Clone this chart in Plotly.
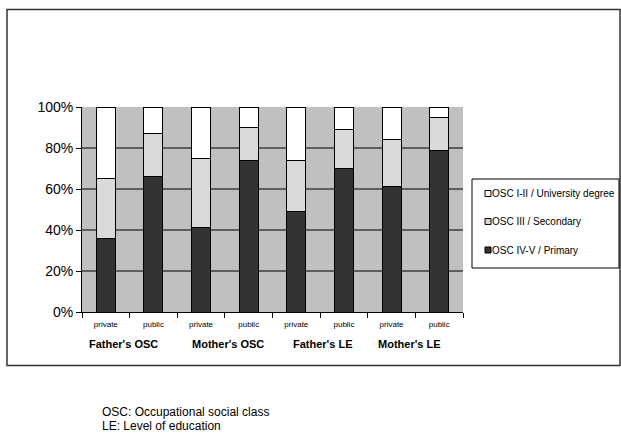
import plotly.graph_objects as go

# ---- data ----
groups = ["Father's OSC", "Mother's OSC", "Father's LE", "Mother's LE"]
school = ["private", "public"]
series_names = ["OSC IV-V / Primary", "OSC III / Secondary", "OSC I-II / University degree"]
primary = [36, 66, 41, 74, 49, 70, 61, 79]
secondary = [29, 21, 34, 16, 25, 19, 23, 16]
university = [35, 13, 25, 10, 26, 11, 16, 5]
y_ticks = [0, 20, 40, 60, 80, 100]
footnotes = ["OSC: Occupational social class", "LE: Level of education"]

# ---- layout helpers ----
W, H = 621, 436
L, R, T, B = 82, 463, 107, 312
pw, ph = R - L, B - T


def px_x(x):
    return (x - L) / pw


def px_y(y):
    return (B - y) / ph


xpos = list(range(len(groups) * len(school)))
xlabels = [school[i % 2] for i in xpos]

fig = go.Figure()
fig.add_trace(go.Bar(
    x=xpos, y=primary, name=series_names[0], width=0.4,
    marker=dict(color="#333333", line=dict(color="black", width=1)),
    showlegend=False))
fig.add_trace(go.Bar(
    x=xpos, y=secondary, name=series_names[1], width=0.4,
    marker=dict(color="white", line=dict(color="black", width=1),
                pattern=dict(shape=".", fgcolor="#8c8c8c", bgcolor="#f0f0f0",
                             size=2, solidity=0.5)),
    showlegend=False))
fig.add_trace(go.Bar(
    x=xpos, y=university, name=series_names[2], width=0.4,
    marker=dict(color="white", line=dict(color="black", width=1)),
    showlegend=False))

fig.update_layout(
    width=W, height=H,
    margin=dict(l=L, r=W - R, t=T, b=H - B, pad=0),
    barmode="stack",
    plot_bgcolor="#C0C0C0",
    paper_bgcolor="white",
    font=dict(family="Liberation Sans, Arial, sans-serif", color="black"),
    xaxis=dict(
        range=[-0.5, len(xpos) - 0.5],
        tickmode="array", tickvals=xpos, ticktext=xlabels,
        ticks="", showgrid=False, zeroline=False,
        showline=True, linecolor="black", linewidth=1,
        tickfont=dict(size=8, color="black"),
        ticklabelstandoff=4,
        minor=dict(ticks="outside", ticklen=5, tickcolor="black",
                   tick0=-0.5, dtick=1, showgrid=False),
    ),
    yaxis=dict(
        range=[0, 100],
        tickmode="array", tickvals=y_ticks,
        ticktext=[f"{v}%" for v in y_ticks],
        ticks="outside", ticklen=5, tickcolor="black",
        showline=True, linecolor="black", linewidth=1,
        showgrid=True, gridcolor="#5e5e5e", gridwidth=1.5,
        zeroline=False,
        tickfont=dict(size=14, color="black"),
    ),
)

# group labels under the axis
label_nudge = [-0.12, 0.07, 0.05, -0.12]
for i, g in enumerate(groups):
    fig.add_annotation(
        x=2 * i + 0.5 + label_nudge[i], y=px_y(344), xref="x", yref="paper",
        text=f"<b>{g}</b>", showarrow=False, xanchor="center", yanchor="middle",
        font=dict(size=11))

# outer frame
fig.add_shape(type="rect", xref="paper", yref="paper",
              x0=px_x(7), x1=px_x(620), y0=px_y(365.5), y1=px_y(9.5),
              line=dict(color="#333333", width=1.5), layer="below")

# legend box (drawn manually to match original compact layout)
fig.add_shape(type="rect", xref="paper", yref="paper",
              x0=px_x(472), x1=px_x(619), y0=px_y(268), y1=px_y(179),
              line=dict(color="black", width=1), fillcolor="white")
legend_items = [(series_names[2], "white"), (series_names[1], "#d4d4d4"),
                (series_names[0], "#333333")]
legend_y = [193.5, 221.5, 250]
for (name, col), yy in zip(legend_items, legend_y):
    fig.add_shape(type="rect", xref="paper", yref="paper",
                  x0=px_x(485), x1=px_x(491), y0=px_y(yy + 3), y1=px_y(yy - 3),
                  line=dict(color="black", width=1), fillcolor=col)
    fig.add_annotation(x=px_x(489.5), y=px_y(yy), xref="paper", yref="paper",
                       text=name, showarrow=False, xanchor="left", yanchor="middle",
                       font=dict(size=10))

# footnotes
for txt, yy in zip(footnotes, [412, 426]):
    fig.add_annotation(x=px_x(100), y=px_y(yy), xref="paper", yref="paper",
                       text=txt, showarrow=False, xanchor="left", yanchor="middle",
                       font=dict(size=12))

fig.write_html(
    "out.html",
    config={"displayModeBar": False},
    post_script="document.body.style.margin='0';document.body.style.overflow='hidden';",
)
